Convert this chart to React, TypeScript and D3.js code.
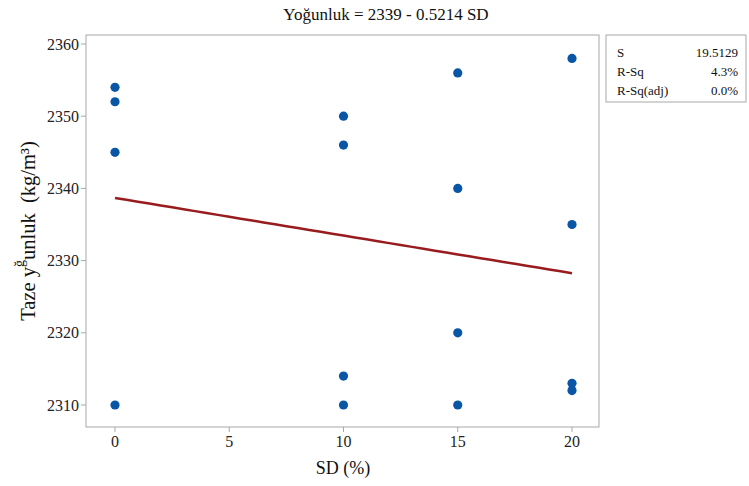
import React from "react";
import * as d3 from "d3";

const sdValues = [0, 0, 0, 0, 10, 10, 10, 10, 15, 15, 15, 15, 20, 20, 20, 20];
const densityValues = [2354, 2352, 2345, 2310, 2350, 2346, 2314, 2310, 2356, 2340, 2320, 2310, 2358, 2335, 2313, 2312];
const xTicks = [0, 5, 10, 15, 20];
const yTicks = [2310, 2320, 2330, 2340, 2350, 2360];
const statLabels = ["S", "R-Sq", "R-Sq(adj)"];
const statValues = ["19.5129", "4.3%", "0.0%"];

const W = 749, H = 486;
const box = { left: 86, right: 599, top: 35, bottom: 427 };
const FONT = "'Liberation Serif', 'Times New Roman', serif";

export default function App() {
  const x = d3.scaleLinear().domain([0, 20]).range([115, 572]);
  const y = d3.scaleLinear().domain([2310, 2360]).range([405, 44]);

  const mx = d3.mean(sdValues)!;
  const my = d3.mean(densityValues)!;
  let sxy = 0, sxx = 0;
  sdValues.forEach((v, i) => { sxy += (v - mx) * (densityValues[i] - my); sxx += (v - mx) ** 2; });
  const slope = sxy / sxx;
  const intercept = my - slope * mx;
  const linePts: [number, number][] = d3.range(0, 20.001, 0.5).map((v) => [v, intercept + slope * v]);
  const line = d3.line<[number, number]>().x((d) => x(d[0])).y((d) => y(d[1]));

  return (
    <svg width={W} height={H} style={{ position: "absolute", left: 0, top: 0, background: "#fff" }} fontFamily={FONT}>
      <rect x={0} y={0} width={W} height={H} fill="#fff" />
      <text x={386} y={20} textAnchor="middle" fontSize={17} fill="#111">Yoğunluk = 2339 - 0.5214 SD</text>
      <rect x={box.left} y={box.top} width={box.right - box.left} height={box.bottom - box.top} fill="#fff" stroke="#a8a8a8" strokeWidth={1} />
      {xTicks.map((t) => (
        <g key={"x" + t}>
          <line x1={x(t)} x2={x(t)} y1={box.bottom} y2={box.bottom + 5} stroke="#a8a8a8" />
          <text x={x(t)} y={447} textAnchor="middle" fontSize={16} fill="#222">{t}</text>
        </g>
      ))}
      {yTicks.map((t) => (
        <g key={"y" + t}>
          <line x1={box.left - 5} x2={box.left} y1={y(t)} y2={y(t)} stroke="#a8a8a8" />
          <text x={79} y={y(t) + 5.5} textAnchor="end" fontSize={16} fill="#222">{t}</text>
        </g>
      ))}
      <text x={343} y={474} textAnchor="middle" fontSize={18} fill="#111">SD (%)</text>
      <text transform="translate(35,231) rotate(-90)" textAnchor="middle" fontSize={20.5} fill="#111" style={{ whiteSpace: "pre" }}>
        Taze y<tspan fontSize={14} dy={-11}>ğ</tspan><tspan dy={11}>unluk  (kg/m³)</tspan>
      </text>
      <path d={line(linePts)!} fill="none" stroke="#981b1e" strokeWidth={2.5} />
      {sdValues.map((v, i) => (
        <circle key={i} cx={x(v)} cy={y(densityValues[i])} r={4.6} fill="#0a56a6" />
      ))}
      <rect x={606} y={35} width={140} height={67} fill="#fff" stroke="#a8a8a8" />
      {statLabels.map((l, i) => (
        <g key={l}>
          <text x={617} y={57 + i * 19} fontSize={13} fill="#111">{l}</text>
          <text x={738} y={57 + i * 19} textAnchor="end" fontSize={13} fill="#111">{statValues[i]}</text>
        </g>
      ))}
    </svg>
  );
}
